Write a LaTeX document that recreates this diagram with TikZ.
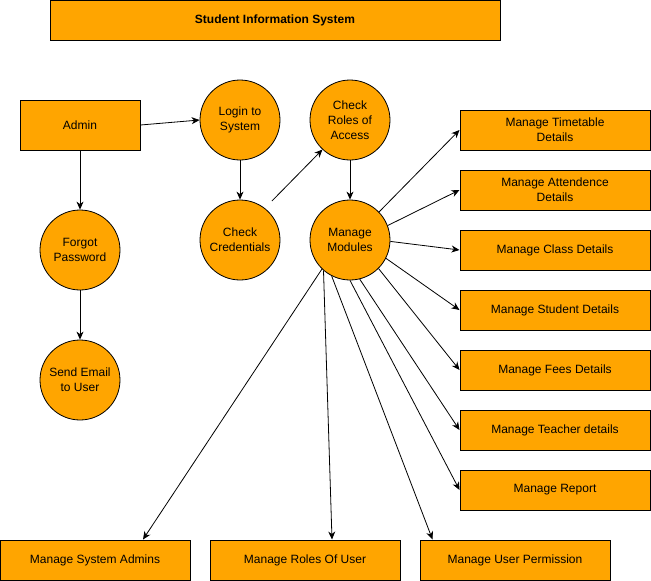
\documentclass[tikz,border=0pt]{standalone}
\usepackage{fontspec}
\setmainfont{Liberation Sans}
\usetikzlibrary{arrows.meta}
\definecolor{boxorange}{HTML}{FFA500}
\begin{document}
\begin{tikzpicture}[x=1pt,y=-1pt,
  font=\fontsize{12}{15}\selectfont,
  rbox/.style={draw=black,line width=1pt,fill=boxorange,rectangle,inner sep=0pt,align=center},
  proc/.style={draw=black,line width=0.8pt,fill=boxorange,circle,minimum size=80pt,inner sep=0pt,align=center},
  conn/.style={line width=0.8pt,-{Stealth[length=8pt,width=7pt,inset=2.5pt]}}]
\useasboundingbox (0,0) rectangle (651,581);
% title
\node[rbox,minimum width=450pt,minimum height=39.5pt,font=\bfseries\fontsize{12}{15}\selectfont] (title) at (275,20.5) {Student Information System};
% left side
\node[rbox,minimum width=120pt,minimum height=50pt] (admin) at (80,125) {Admin};
\node[proc] (forgot) at (80,250) {Forgot\\Password};
\node[proc] (email) at (80,380) {Send Email\\to User};
\node[proc] (login) at (240,120) {Login to\\System};
\node[proc] (cred) at (240,240) {Check\\Credentials};
\node[proc] (roles) at (350,120) {Check\\Roles of\\Access};
\node[proc] (mm) at (350,240) {Manage\\Modules};
% right boxes
\node[rbox,minimum width=190pt,minimum height=40pt] (tt) at (555,130) {Manage Timetable\\Details};
\node[rbox,minimum width=190pt,minimum height=40pt] (att) at (555,190) {Manage Attendence\\Details};
\node[rbox,minimum width=190pt,minimum height=40pt] (cls) at (555,250) {Manage Class Details};
\node[rbox,minimum width=190pt,minimum height=40pt] (stu) at (555,310) {Manage Student Details};
\node[rbox,minimum width=190pt,minimum height=40pt] (fee) at (555,370) {Manage Fees Details};
\node[rbox,minimum width=190pt,minimum height=40pt] (tea) at (555,430) {Manage Teacher details};
\node[rbox,minimum width=190pt,minimum height=40pt] (rep) at (555,490) {Manage Report};
% bottom boxes
\node[rbox,minimum width=190pt,minimum height=40pt] (sysadm) at (95,560) {Manage System Admins};
\node[rbox,minimum width=190pt,minimum height=40pt] (rusr) at (305,560) {Manage Roles Of User};
\node[rbox,minimum width=190pt,minimum height=40pt] (perm) at (515,560) {Manage User Permission};
% connectors
\draw[conn] (admin.east) -- (login.west);
\draw[conn] (admin.south) -- (forgot.north);
\draw[conn] (forgot.south) -- (email.north);
\draw[conn] (login.south) -- (cred.north);
\draw[conn,shorten <=10pt] (cred.52) -- (roles.-133);
\draw[conn] (roles.south) -- (mm.north);
\draw[conn] (mm.44) -- (tt.west);
\draw[conn] (mm.21) -- (att.west);
\draw[conn] (mm.-2) -- (cls.west);
\draw[conn] (mm.-27) -- (stu.west);
\draw[conn] (mm.-45) -- (fee.west);
\draw[conn] (mm.-76) -- (tea.west);
\draw[conn] (mm.south) -- (rep.west);
\draw[conn] (mm.-117) -- ([xshift=13pt]perm.north west);
\draw[conn] (mm.-131) -- ([xshift=27pt]rusr.north);
\draw[conn] (mm.-134) -- ([xshift=48pt]sysadm.north);
\end{tikzpicture}
\end{document}
